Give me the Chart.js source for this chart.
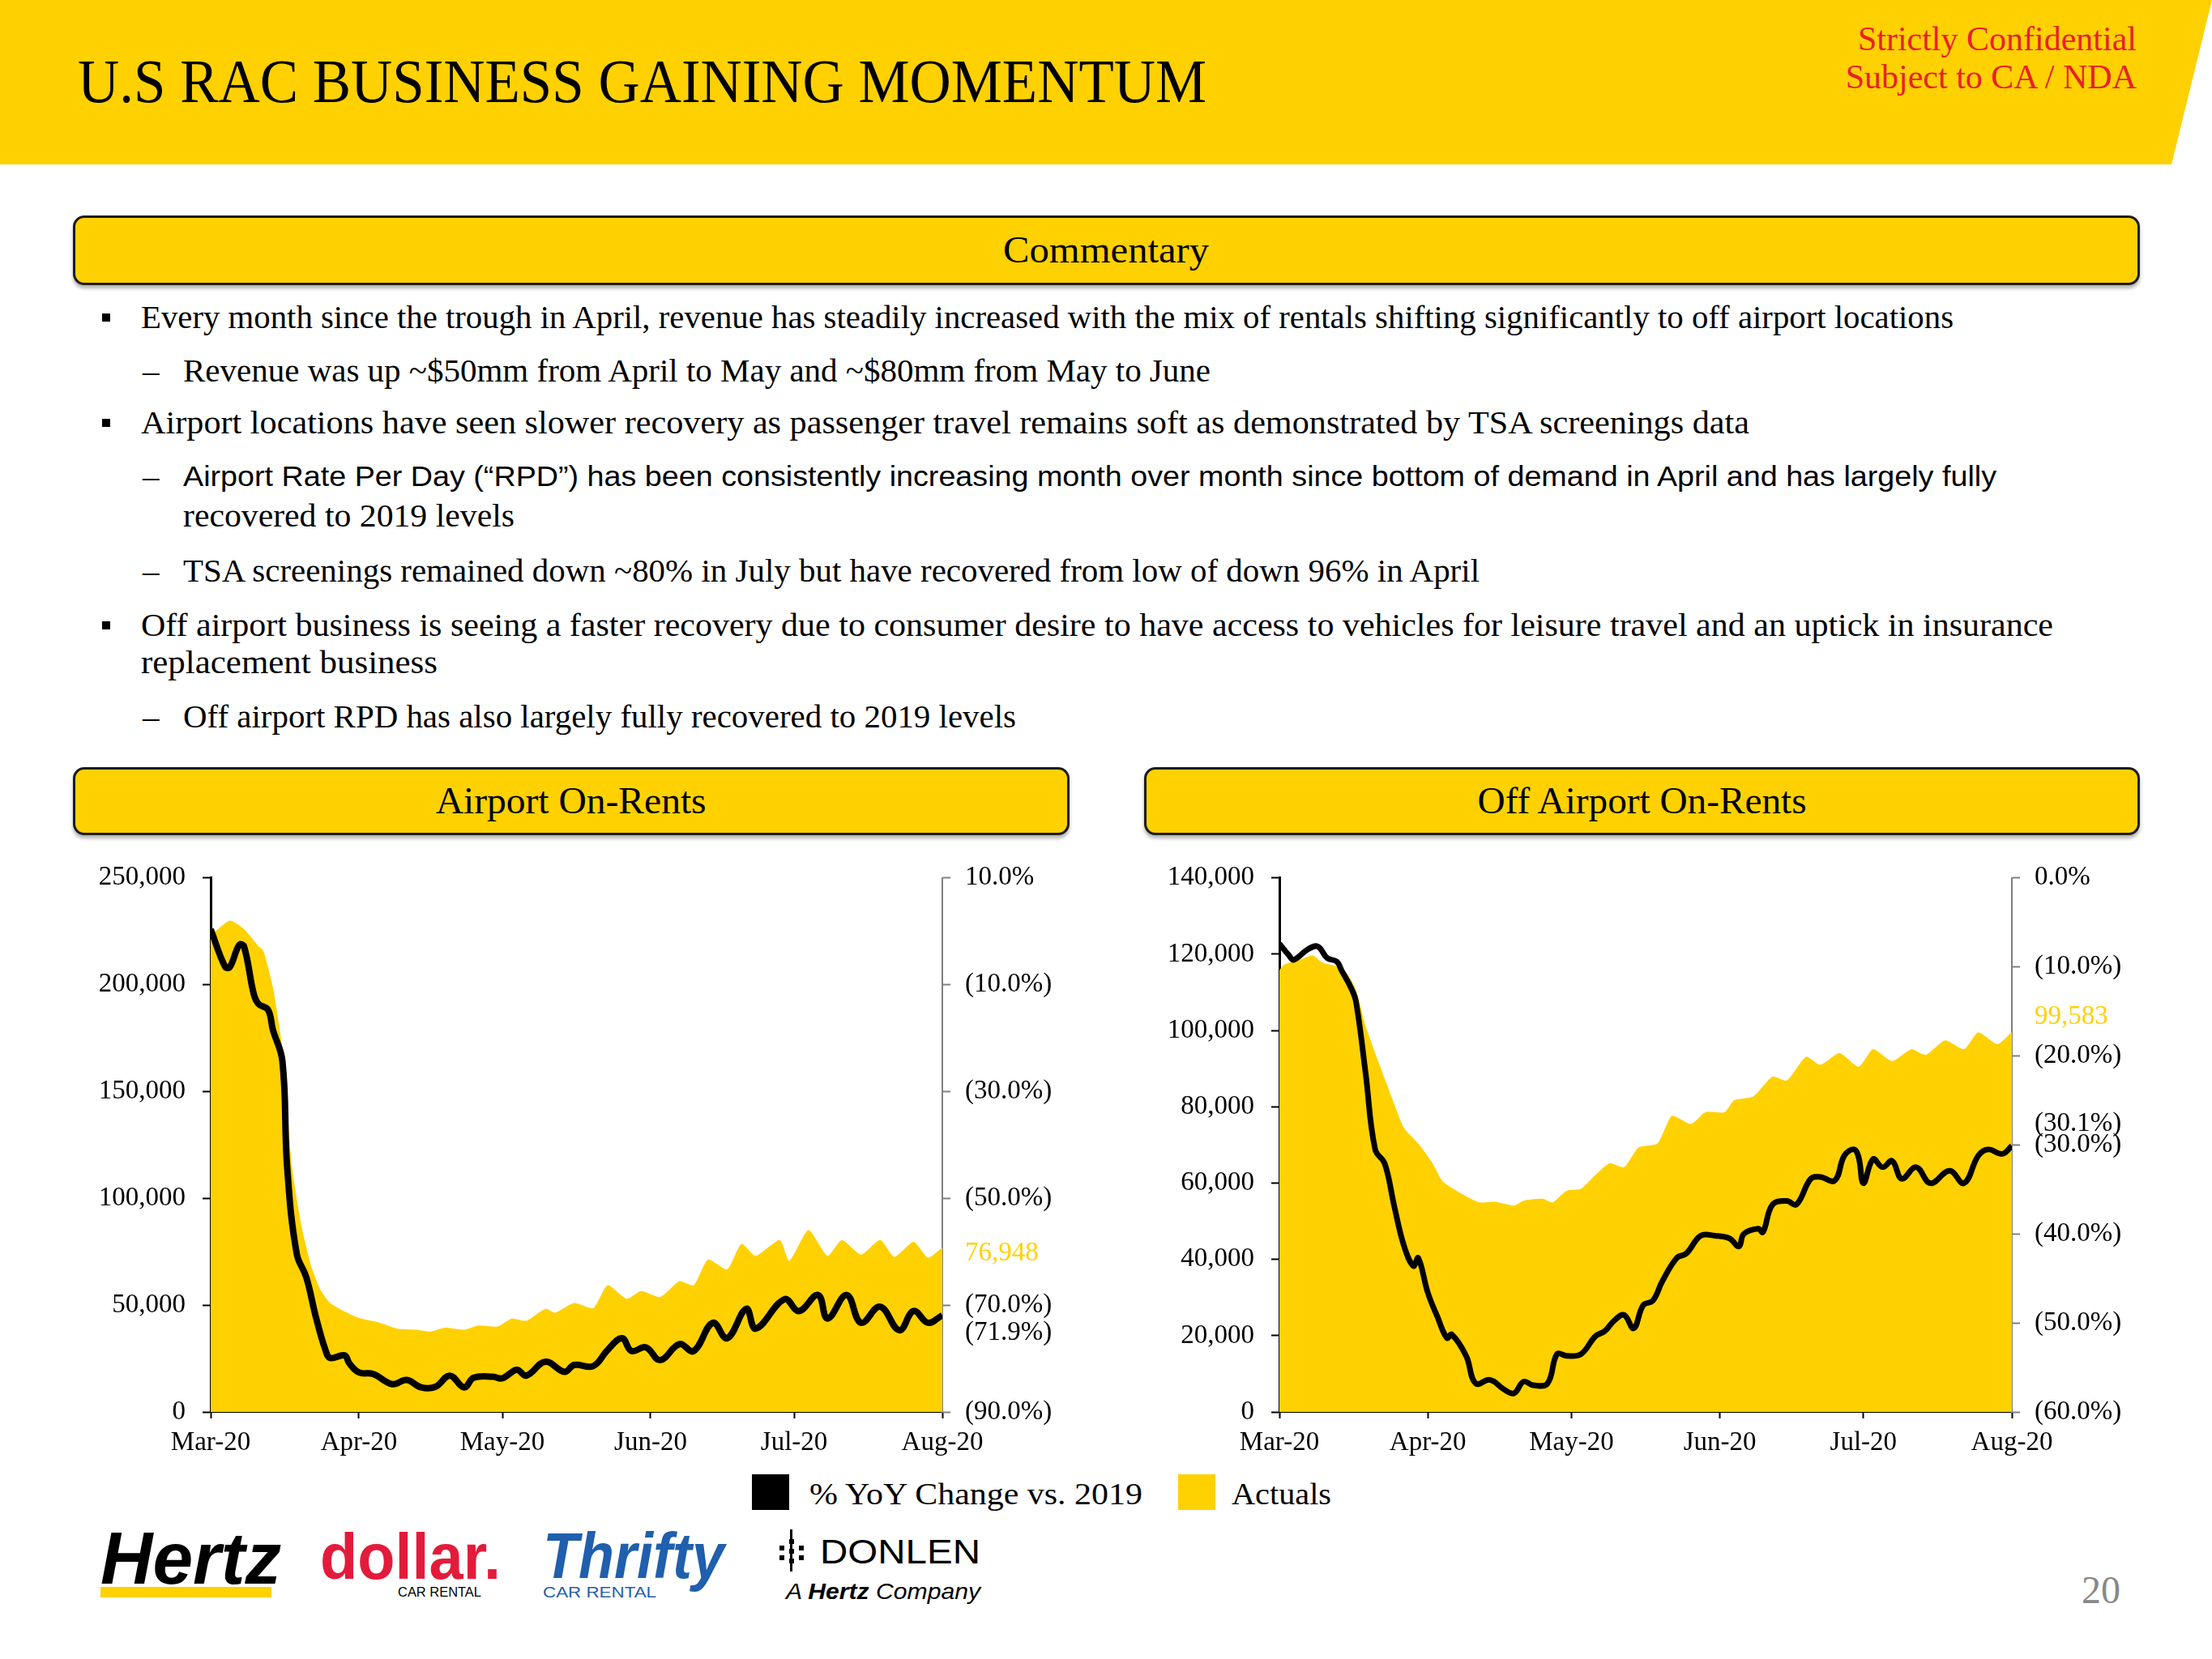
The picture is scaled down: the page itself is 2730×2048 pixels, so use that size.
<!DOCTYPE html>
<html>
<head>
<meta charset="utf-8">
<title>U.S RAC Business Gaining Momentum</title>
<script src="https://cdn.jsdelivr.net/npm/chart.js@4.4.0/dist/chart.umd.min.js"></script>
<style>
  body { margin: 0; width: 2730px; height: 2048px; position: relative; overflow: hidden;
         background: #fff; color: #000; font-family: 'Liberation Serif', serif; line-height: 1; }
  .abs { position: absolute; white-space: nowrap; }
  .t { display: inline-block; transform-origin: left center; }
  .c { text-align: center; }
  .c .t { transform-origin: center center; }
  #band { position: absolute; left: 0; top: 0; width: 2730px; height: 203px; background: #FFD100;
          clip-path: polygon(0 0, 2730px 0, 2680px 203px, 0 203px); }
  .box { position: absolute; background: #FFD100; border: 3px solid #1c1c1c; border-radius: 14px;
         box-sizing: border-box; box-shadow: 0 4px 4px rgba(0,0,0,0.3); }
  .sq { position: absolute; width: 10px; height: 10px; background: #000; }
  .body { font-size: 41px; }
  .sans { font-family: 'Liberation Sans', sans-serif; }
  canvas { position: absolute; }
</style>
</head>
<body>
<div id="band"></div>
<div class="abs" style="left:96px;top:62px;font-size:77px;"><span class="t" data-w="1393">U.S RAC BUSINESS GAINING MOMENTUM</span></div>
<div class="abs" style="right:93px;top:27px;font-size:42px;color:#E8202A;text-align:right;">Strictly Confidential</div>
<div class="abs" style="right:93px;top:74px;font-size:42px;color:#E8202A;text-align:right;">Subject to CA / NDA</div>

<div class="box" style="left:90px;top:266px;width:2551px;height:86px;"></div>
<div class="abs c" style="left:90px;top:286px;width:2551px;font-size:46px;"><span class="t" data-w="254">Commentary</span></div>

<div class="sq" style="left:126px;top:387px;"></div>
<div class="abs body" style="left:174px;top:371px;"><span class="t" data-w="2237">Every month since the trough in April, revenue has steadily increased with the mix of rentals shifting significantly to off airport locations</span></div>
<div class="abs body" style="left:176px;top:437px;">–</div>
<div class="abs body" style="left:226px;top:437px;"><span class="t" data-w="1268">Revenue was up ~$50mm from April to May and ~$80mm from May to June</span></div>
<div class="sq" style="left:126px;top:517px;"></div>
<div class="abs body" style="left:174px;top:501px;"><span class="t" data-w="1985">Airport locations have seen slower recovery as passenger travel remains soft as demonstrated by TSA screenings data</span></div>
<div class="abs body" style="left:176px;top:567px;">–</div>
<div class="abs sans" style="left:226px;top:570px;font-size:35px;"><span class="t" data-w="2238">Airport Rate Per Day (“RPD”) has been consistently increasing month over month since bottom of demand in April and has largely fully</span></div>
<div class="abs body" style="left:226px;top:616px;"><span class="t" data-w="409">recovered to 2019 levels</span></div>
<div class="abs body" style="left:176px;top:684px;">–</div>
<div class="abs body" style="left:226px;top:684px;"><span class="t" data-w="1600">TSA screenings remained down ~80% in July but have recovered from low of down 96% in April</span></div>
<div class="sq" style="left:126px;top:767px;"></div>
<div class="abs body" style="left:174px;top:751px;"><span class="t" data-w="2360">Off airport business is seeing a faster recovery due to consumer desire to have access to vehicles for leisure travel and an uptick in insurance</span></div>
<div class="abs body" style="left:174px;top:797px;"><span class="t" data-w="366">replacement business</span></div>
<div class="abs body" style="left:176px;top:864px;">–</div>
<div class="abs body" style="left:226px;top:864px;"><span class="t" data-w="1028">Off airport RPD has also largely fully recovered to 2019 levels</span></div>

<div class="box" style="left:90px;top:947px;width:1230px;height:84px;"></div>
<div class="abs c" style="left:90px;top:966px;width:1230px;font-size:46px;"><span class="t" data-w="334">Airport On-Rents</span></div>
<div class="box" style="left:1412px;top:947px;width:1229px;height:84px;"></div>
<div class="abs c" style="left:1412px;top:966px;width:1229px;font-size:46px;"><span class="t" data-w="406">Off Airport On-Rents</span></div>

<canvas id="airportChart" width="1230" height="760" style="left:90px;top:1043px;"></canvas>
<canvas id="offAirportChart" width="1229" height="760" style="left:1412px;top:1043px;"></canvas>

<div class="abs" style="left:928px;top:1820px;width:46px;height:44px;background:#000;"></div>
<div class="abs" style="left:999px;top:1825px;font-size:38px;"><span class="t" data-w="411">% YoY Change vs. 2019</span></div>
<div class="abs" style="left:1454px;top:1820px;width:46px;height:44px;background:#FFD100;"></div>
<div class="abs" style="left:1520px;top:1825px;font-size:38px;"><span class="t" data-w="123">Actuals</span></div>

<div class="abs sans" style="left:124px;top:1879px;font-size:90px;font-weight:bold;font-style:italic;"><span class="t" data-w="223">Hertz</span></div>
<div class="abs" style="left:124px;top:1959px;width:211px;height:13px;background:#FFD100;"></div>
<div class="abs sans" style="left:395px;top:1882px;font-size:80px;font-weight:bold;color:#E31B3B;"><span class="t" data-w="223">dollar.</span></div>
<div class="abs sans" style="left:491px;top:1958px;font-size:16px;"><span class="t" data-w="103">CAR RENTAL</span></div>
<div class="abs sans" style="left:670px;top:1881px;font-size:80px;font-weight:bold;font-style:italic;color:#1F5FAD;"><span class="t" data-w="224">Thrifty</span></div>
<div class="abs sans" style="left:670px;top:1957px;font-size:18px;color:#1F5FAD;"><span class="t" data-w="140">CAR RENTAL</span></div>
<div class="abs" style="left:974px;top:1900px;width:6px;height:6px;background:#000;"></div>
<div class="abs" style="left:974px;top:1912px;width:6px;height:6px;background:#000;"></div>
<div class="abs" style="left:974px;top:1924px;width:6px;height:6px;background:#000;"></div>
<div class="abs" style="left:962px;top:1908px;width:6px;height:6px;background:#000;"></div>
<div class="abs" style="left:962px;top:1920px;width:6px;height:6px;background:#000;"></div>
<div class="abs" style="left:986px;top:1908px;width:6px;height:6px;background:#000;"></div>
<div class="abs" style="left:986px;top:1920px;width:6px;height:6px;background:#000;"></div>
<div class="abs" style="left:975px;top:1888px;width:3px;height:52px;background:#000;"></div>
<div class="abs sans" style="left:1012px;top:1895px;font-size:42px;"><span class="t" data-w="198">DONLEN</span></div>
<div class="abs sans" style="left:970px;top:1951px;font-size:28px;font-style:italic;"><span class="t" data-w="240">A <b>Hertz</b> Company</span></div>
<div class="abs" style="left:2569px;top:1939px;font-size:48px;color:#888;">20</div>

<script>
// x values: days since 1 Mar 2020
const monthTicks = [0, 31, 61, 92, 122, 153];
const monthLabels = ['Mar-20', 'Apr-20', 'May-20', 'Jun-20', 'Jul-20', 'Aug-20'];

// Airport On-Rents
const airportActualDays = [0, 4, 7, 10, 11, 13, 15, 17, 19, 21, 23, 25, 28, 31, 35, 39, 43, 46, 49, 53,
  56, 60, 63, 66, 70, 72, 76, 80, 83, 87, 90, 94, 98, 101, 104, 108, 111, 114, 119, 121,
  125, 129, 132, 136, 140, 143, 147, 150, 153];
const airportActuals = [223000, 230000, 226000, 218000, 216000, 199000, 170000, 115000, 87000, 68500,
  57000, 51000, 47000, 44000, 42000, 39000, 38500, 37600, 39400, 38500,
  40500, 40000, 43700, 42700, 48300, 46400, 51000, 48600, 59300, 52900,
  56600, 53800, 61200, 59300, 71300, 66700, 78700, 73100, 80500, 70700,
  85100, 73100, 80500, 73700, 80500, 72600, 79600, 72200, 76948];
const airportYoyDays = [0, 3, 4, 6, 7, 9, 10, 12, 13, 15, 16, 18, 20, 22, 24, 25, 28, 29, 31, 34,
  38, 41, 44, 47, 50, 53, 55, 59, 61, 64, 66, 70, 74, 76, 80, 83, 86, 88, 91, 94,
  98, 101, 105, 108, 112, 114, 120, 123, 127, 129, 133, 136, 140, 144, 147, 150, 153];
const airportYoy = [0.4, -6.6, -6.7, -2.5, -2.9, -11.7, -13.6, -14.7, -18.4, -24.3,
  -44.2, -60.4, -64.8, -72.2, -78.4, -79.9, -79.4, -80.9, -82.6, -82.9,
  -84.8, -84.0, -85.4, -85.3, -83.2, -85.4, -83.6, -83.4, -83.7, -82.1,
  -83.2, -80.6, -82.5, -81.2, -81.4, -78.4, -76.2, -78.6, -77.9, -80.3,
  -77.3, -78.6, -73.3, -76.2, -70.7, -74.4, -68.9, -71.1, -68.1, -72.5,
  -68.1, -73.3, -70.3, -74.7, -71.1, -73.3, -71.9];
const airportCountTicks = [0, 50000, 100000, 150000, 200000, 250000];
const airportPctTicks = [-90, -70, -50, -30, -10, 10];

// Off Airport On-Rents
const offActualDays = [0, 1, 5, 7, 9, 12, 14, 16, 18, 20, 22, 24, 26, 29, 32, 34, 37, 40, 42, 45,
  49, 51, 55, 57, 60, 63, 66, 69, 72, 75, 79, 82, 86, 89, 93, 95, 99, 103, 106, 110,
  113, 117, 121, 124, 128, 132, 135, 139, 143, 146, 150, 153];
const offActuals = [115800, 117300, 118900, 119700, 117800, 116800, 115200, 110600, 101300, 94100,
  87400, 80700, 74500, 70400, 65200, 60600, 58000, 55900, 54900, 55100,
  54100, 55400, 55900, 54900, 58000, 58500, 62100, 65200, 64200, 69300,
  70400, 77600, 75500, 78600, 78600, 81700, 82700, 87900, 86900, 93100,
  91000, 94100, 90500, 95100, 92000, 95100, 93600, 97400, 95100, 99500,
  96400, 99583];
const offYoyDays = [0, 2, 3, 6, 8, 10, 12, 13, 15, 16, 18, 20, 22, 24, 26, 28, 29, 31, 33, 35,
  36, 39, 41, 44, 47, 49, 51, 53, 56, 58, 60, 63, 66, 68, 70, 72, 74, 76, 78, 80,
  83, 85, 88, 91, 94, 96, 97, 100, 101, 103, 106, 108, 111, 113, 116, 118, 120, 121, 122, 124,
  126, 128, 130, 133, 136, 140, 143, 146, 148, 151, 153];
const offYoy = [-7.4, -8.7, -9.2, -8.0, -7.7, -9.0, -9.4, -10.4, -12.4, -13.9,
  -21.9, -30.5, -32.1, -36.9, -41.3, -43.6, -42.7, -46.6, -49.3, -51.7,
  -51.3, -53.7, -56.8, -56.4, -57.5, -57.9, -56.6, -57.0, -56.8, -53.5,
  -53.7, -53.5, -51.5, -50.9, -49.7, -49.1, -50.6, -48.0, -47.5, -45.3,
  -42.7, -42.2, -40.2, -40.2, -40.5, -41.4, -40.0, -39.4, -39.8, -36.7,
  -36.3, -36.7, -33.8, -33.6, -34.0, -31.2, -30.5, -31.4, -34.3, -31.6,
  -32.5, -31.8, -33.8, -32.5, -34.3, -32.9, -34.3, -31.2, -30.5, -31.0, -30.1];
const offCountTicks = [0, 20000, 40000, 60000, 80000, 100000, 120000, 140000];
const offPctTicks = [-60, -50, -40, -30, -20, -10, 0];

const YELLOW = '#FFD100';
const FONT = { family: "'Liberation Serif', serif", size: 33 };

const fmtCount = v => v.toLocaleString('en-US');
const fmtPct = v => v < 0 ? '(' + Math.abs(v).toFixed(1) + '%)' : Math.abs(v).toFixed(1) + '%';
const pts = (xs, ys) => xs.map((x, i) => ({ x, y: ys[i] }));

// value labels at the right end of each series
const endLabels = {
  id: 'endLabels',
  afterDatasetsDraw(chart, args, opts) {
    const { ctx, scales } = chart;
    const x = scales.y1.left + 28;
    ctx.save();
    ctx.font = '33px "Liberation Serif"';
    ctx.textAlign = 'left';
    ctx.textBaseline = 'middle';
    ctx.fillStyle = YELLOW;
    ctx.fillText(fmtCount(opts.actual), x, scales.y.getPixelForValue(opts.actual) + opts.actualDy);
    ctx.fillStyle = '#000';
    ctx.fillText(fmtPct(opts.yoy), x, scales.y1.getPixelForValue(opts.yoy) + opts.yoyDy);
    ctx.restore();
  }
};

function makeChart(id, o) {
  return new Chart(document.getElementById(id), {
    type: 'line',
    data: {
      datasets: [
        {
          label: '% YoY Change vs. 2019',
          data: pts(o.yoyDays, o.yoy),
          yAxisID: 'y1',
          borderColor: '#000',
          borderWidth: o.lineWidth,
          pointRadius: 0,
          tension: 0.4,
          fill: false,
          order: 0,
        },
        {
          label: 'Actuals',
          data: pts(o.actualDays, o.actuals),
          yAxisID: 'y',
          backgroundColor: YELLOW,
          borderWidth: 0,
          pointRadius: 0,
          tension: 0.2,
          fill: 'origin',
          order: 1,
        },
      ],
    },
    options: {
      responsive: false,
      animation: false,
      layout: { padding: { top: 20 } },
      plugins: {
        legend: { display: false },
        tooltip: { enabled: false },
        endLabels: {
          actual: o.actuals[o.actuals.length - 1],
          yoy: o.yoy[o.yoy.length - 1],
          actualDy: o.actualDy,
          yoyDy: o.yoyDy,
        },
      },
      scales: {
        x: {
          type: 'linear',
          min: monthTicks[0],
          max: monthTicks[monthTicks.length - 1],
          afterBuildTicks: s => { s.ticks = monthTicks.map(v => ({ value: v })); },
          afterFit: s => { s.height = 60; },
          ticks: {
            callback: v => monthLabels[monthTicks.indexOf(v)],
            autoSkip: false, maxRotation: 0, padding: 11, color: '#000', font: FONT,
          },
          grid: { drawOnChartArea: false, tickLength: 8, tickColor: '#000', tickWidth: 2 },
          border: { color: '#000', width: 2 },
        },
        y: {
          position: 'left',
          min: o.countTicks[0],
          max: o.countTicks[o.countTicks.length - 1],
          afterBuildTicks: s => { s.ticks = o.countTicks.map(v => ({ value: v })); },
          afterFit: s => { s.width = o.leftW; },
          ticks: { callback: v => fmtCount(v), padding: 21, color: '#000', font: FONT },
          grid: { drawOnChartArea: false, tickLength: 10, tickColor: '#000', tickWidth: 2 },
          border: { color: '#000', width: 3 },
        },
        y1: {
          position: 'right',
          min: o.pctTicks[0],
          max: o.pctTicks[o.pctTicks.length - 1],
          afterBuildTicks: s => { s.ticks = o.pctTicks.map(v => ({ value: v })); },
          afterFit: s => { s.width = o.rightW; },
          ticks: { callback: v => fmtPct(v), padding: 18, color: '#000', font: FONT },
          grid: { drawOnChartArea: false, tickLength: 10, tickColor: '#808080', tickWidth: 2 },
          border: { color: '#808080', width: 2 },
        },
      },
    },
    plugins: [endLabels],
  });
}

makeChart('airportChart', {
  actualDays: airportActualDays, actuals: airportActuals,
  yoyDays: airportYoyDays, yoy: airportYoy,
  countTicks: airportCountTicks, pctTicks: airportPctTicks,
  leftW: 170, rightW: 157, lineWidth: 8, actualDy: 7, yoyDy: 22,
});

makeChart('offAirportChart', {
  actualDays: offActualDays, actuals: offActuals,
  yoyDays: offYoyDays, yoy: offYoy,
  countTicks: offCountTicks, pctTicks: offPctTicks,
  leftW: 167, rightW: 158, lineWidth: 7, actualDy: -19, yoyDy: -27,
});

// squeeze text runs to the widths they have on the slide
document.fonts.ready.then(() => {
  document.querySelectorAll('.t[data-w]').forEach(el => {
    const w = el.getBoundingClientRect().width;
    if (w > 0) el.style.transform = 'scaleX(' + (+el.dataset.w / w) + ')';
  });
});
</script>
</body>
</html>
